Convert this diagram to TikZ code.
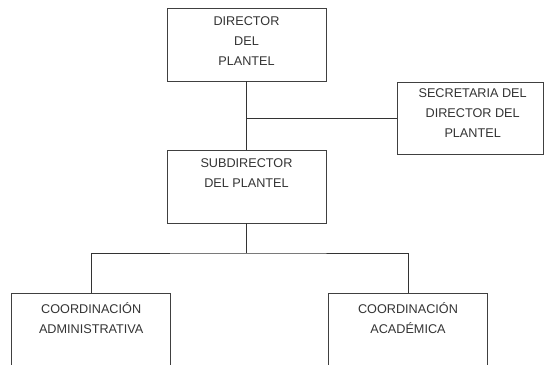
\documentclass[tikz,border=0pt]{standalone}
\usepackage{fontspec}
\setmainfont{Liberation Sans}
\usetikzlibrary{positioning}

\begin{document}
\begin{tikzpicture}[x=0.75pt,y=-0.75pt,
 box/.style={draw=black!75,line width=0.6pt,minimum width=119.4pt,minimum height=54.75pt,inner sep=0pt},
 txt/.style={inner sep=0pt,align=center,text=black!80,font=\fontsize{9.5}{15}\selectfont},
 link/.style={draw=black!80,line width=0.6pt}]
\clip (0,0) rectangle (544,365);
% boxes
\node[box] (dir) at (246.5,44.5) {};
\node[box,minimum width=109.5pt,minimum height=54pt] (sec) at (470,118) {};
\node[box] (sub) at (246.5,186.5) {};
\node[box,minimum height=80pt] (adm) at (91.2,347) {};
\node[box,minimum height=80pt] (aca) at (408,347) {};
% texts
\node[txt,below=6.4pt of dir.north] (dirt) {DIRECTOR\\DEL\\PLANTEL};
\node[txt,below=4.9pt of sec.north,xshift=2pt] (sect) {SECRETARIA DEL\\DIRECTOR DEL\\PLANTEL};
\node[txt,below=6.4pt of sub.north] (subt) {SUBDIRECTOR\\DEL PLANTEL};
\node[txt,below=6.4pt of adm.north] (admt) {COORDINACI\'ON\\ADMINISTRATIVA};
\node[txt,below=6.4pt of aca.north] (acat) {COORDINACI\'ON\\ACAD\'EMICA};
% connectors
\coordinate (secj) at (dir.south |- sec.west);
\coordinate (bus) at (246.5,253);
\draw[link] (dir) -- (sub);
\draw[link] (secj) -- (sec.west);
\draw[link] (sub) -- (bus);
\draw[link] (adm.north) |- (bus) -| (aca.north);
\end{tikzpicture}
\end{document}
